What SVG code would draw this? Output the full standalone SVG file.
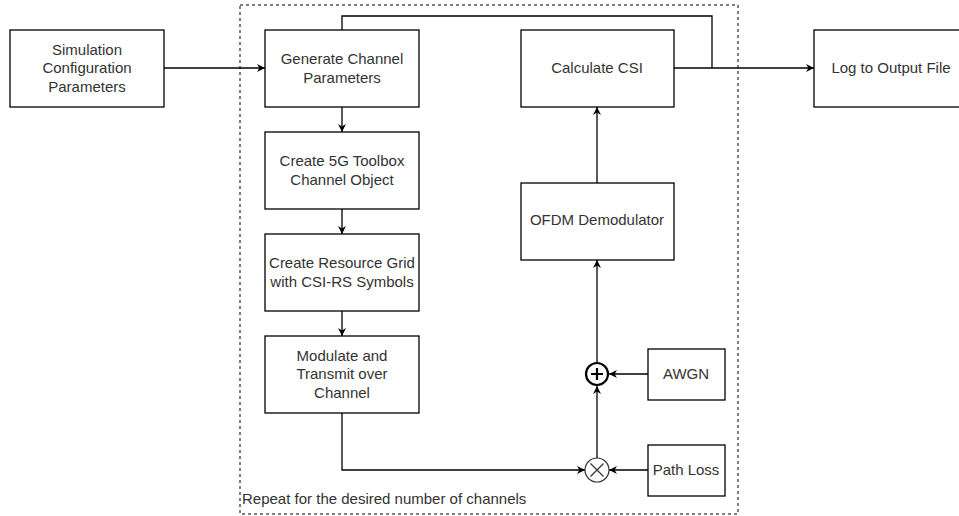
<svg xmlns="http://www.w3.org/2000/svg" width="959" height="516" viewBox="0 0 959 516">
<defs>
<marker id="arr" viewBox="0 0 10 10" refX="10" refY="5" markerWidth="8" markerHeight="8" markerUnits="userSpaceOnUse" orient="auto">
<path d="M0,0 L10,5 L0,10 L3,5 z" fill="#000"/>
</marker>
<style>
.box{fill:#fff;stroke:#000;stroke-width:1.3}
.t{font-family:"Liberation Sans",Arial,sans-serif;font-size:15px;fill:#333;text-anchor:middle}
.e{fill:none;stroke:#000;stroke-width:1.3}
</style>
</defs>
<rect width="959" height="516" fill="#fff"/>
<g id="repeat">
<rect x="240" y="5" width="498" height="509" fill="none" stroke="#000" stroke-width="1" stroke-dasharray="3 3"/>
<text x="242" y="504" class="t" style="text-anchor:start">Repeat for the desired number of channels</text>
</g>
<g id="connectors">
<path class="e" d="M164,68 H265" marker-end="url(#arr)"/>
<path class="e" d="M342,107 V132" marker-end="url(#arr)"/>
<path class="e" d="M342,209 V234" marker-end="url(#arr)"/>
<path class="e" d="M342,311 V336" marker-end="url(#arr)"/>
<path class="e" d="M342,413 V470 H585" marker-end="url(#arr)"/>
<path class="e" d="M648,470 H609" marker-end="url(#arr)"/>
<path class="e" d="M648,374 H609" marker-end="url(#arr)"/>
<path class="e" d="M597,458 V386" marker-end="url(#arr)"/>
<path class="e" d="M597,362 V260" marker-end="url(#arr)"/>
<path class="e" d="M597,183 V107" marker-end="url(#arr)"/>
<path class="e" d="M674,68 H814" marker-end="url(#arr)"/>
<path class="e" d="M712,68 V16 H342 V30"/>
</g>
<g id="sim"><rect class="box" x="10" y="30" width="154" height="77"/>
<text class="t" x="87" y="55">Simulation</text><text class="t" x="87" y="73">Configuration</text><text class="t" x="87" y="92">Parameters</text></g>
<g id="gen"><rect class="box" x="265" y="30" width="154" height="77"/>
<text class="t" x="342" y="64">Generate Channel</text><text class="t" x="342" y="83">Parameters</text></g>
<g id="toolbox"><rect class="box" x="265" y="132" width="154" height="77"/>
<text class="t" x="342" y="166">Create 5G Toolbox</text><text class="t" x="342" y="185">Channel Object</text></g>
<g id="grid"><rect class="box" x="265" y="234" width="154" height="77"/>
<text class="t" x="342" y="268">Create Resource Grid</text><text class="t" x="342" y="287">with CSI-RS Symbols</text></g>
<g id="mod"><rect class="box" x="265" y="336" width="154" height="77"/>
<text class="t" x="342" y="361">Modulate and</text><text class="t" x="342" y="379">Transmit over</text><text class="t" x="342" y="398">Channel</text></g>
<g id="csi"><rect class="box" x="521" y="30" width="153" height="77"/>
<text class="t" x="597" y="73">Calculate CSI</text></g>
<g id="ofdm"><rect class="box" x="521" y="183" width="153" height="77"/>
<text class="t" x="597" y="225">OFDM Demodulator</text></g>
<g id="log"><rect class="box" x="814" y="30" width="154" height="77"/>
<text class="t" x="891" y="73">Log to Output File</text></g>
<g id="awgn"><rect class="box" x="648" y="349" width="77" height="51"/>
<text class="t" x="686" y="379">AWGN</text></g>
<g id="pathloss"><rect class="box" x="648" y="445" width="77" height="51"/>
<text class="t" x="686" y="475">Path Loss</text></g>
<g id="sum"><circle cx="597" cy="374" r="11" fill="#fff" stroke="#000" stroke-width="2.2"/>
<path d="M591,374 H603 M597,368 V380" stroke="#000" stroke-width="2.2"/></g>
<g id="mult"><circle cx="597" cy="470" r="12" fill="#fff" stroke="#333" stroke-width="1.2"/>
<path d="M590.5,463.5 L603.5,476.5 M603.5,463.5 L590.5,476.5" stroke="#333" stroke-width="1.2"/></g>
</svg>
